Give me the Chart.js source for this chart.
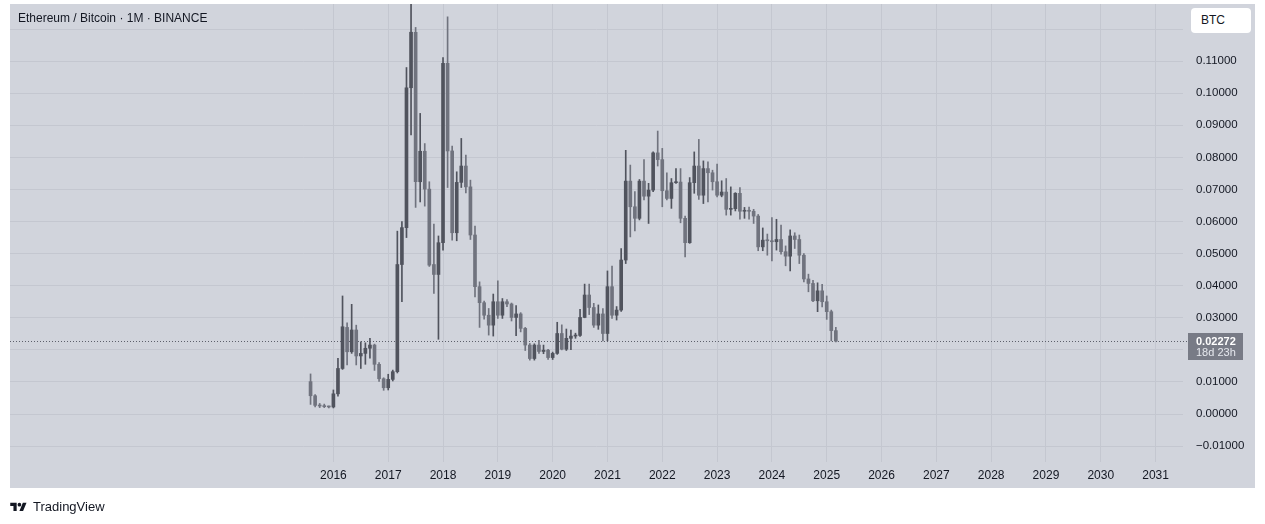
<!DOCTYPE html>
<html>
<head>
<meta charset="utf-8">
<script src="https://cdn.jsdelivr.net/npm/chart.js@4.4.1/dist/chart.umd.min.js"></script>
<style>
  html, body { margin:0; padding:0; background:#ffffff; width:1265px; height:524px; overflow:hidden;
    font-family:"Liberation Sans", Arial, sans-serif; }
  #panel { position:absolute; left:10px; top:4px; width:1245px; height:484px; background:#d1d4dc; }
  #c { position:absolute; left:0; top:0; }
  #title { position:absolute; left:18px; top:11px; font-size:12px; line-height:14px; color:#131722; white-space:nowrap; }
  #btc { position:absolute; left:1191px; top:8px; width:60px; height:25px; background:#ffffff; border-radius:4px;
    font-size:12px; line-height:25px; color:#131722; box-sizing:border-box; padding-left:10px; }
  #logo { position:absolute; left:10px; top:499px; height:14px; display:flex; align-items:center; color:#131722; font-size:13px; }
  #logo svg { margin-right:6px; }
</style>
</head>
<body>
<div id="panel"></div>
<canvas id="c" width="1265" height="524"></canvas>
<div id="title">Ethereum / Bitcoin · 1M · BINANCE</div>
<div id="btc">BTC</div>
<div id="logo"><svg width="17" height="11" viewBox="0 0 36 24"><path d="M14 22H7V11H0V4h14v18zM28 22h-8l7.5-18h8L28 22z" fill="#131722"/><circle cx="20" cy="8" r="4" fill="#131722"/></svg>TradingView</div>
<script>
// ---- data (ETH/BTC monthly candles) ----
const months = [
 '2015-08','2015-09','2015-10','2015-11','2015-12',
 '2016-01','2016-02','2016-03','2016-04','2016-05','2016-06','2016-07','2016-08','2016-09','2016-10','2016-11','2016-12',
 '2017-01','2017-02','2017-03','2017-04','2017-05','2017-06','2017-07','2017-08','2017-09','2017-10','2017-11','2017-12',
 '2018-01','2018-02','2018-03','2018-04','2018-05','2018-06','2018-07','2018-08','2018-09','2018-10','2018-11','2018-12',
 '2019-01','2019-02','2019-03','2019-04','2019-05','2019-06','2019-07','2019-08','2019-09','2019-10','2019-11','2019-12',
 '2020-01','2020-02','2020-03','2020-04','2020-05','2020-06','2020-07','2020-08','2020-09','2020-10','2020-11','2020-12',
 '2021-01','2021-02','2021-03','2021-04','2021-05','2021-06','2021-07','2021-08','2021-09','2021-10','2021-11','2021-12',
 '2022-01','2022-02','2022-03','2022-04','2022-05','2022-06','2022-07','2022-08','2022-09','2022-10','2022-11','2022-12',
 '2023-01','2023-02','2023-03','2023-04','2023-05','2023-06','2023-07','2023-08','2023-09','2023-10','2023-11','2023-12',
 '2024-01','2024-02','2024-03','2024-04','2024-05','2024-06','2024-07','2024-08','2024-09','2024-10','2024-11','2024-12',
 '2025-01','2025-02','2025-03'
];
const open = [
 .0101,.0057,.0027,.0025,.0023,
 .0022,.0063,.0142,.0270,.0194,.0262,.0181,.0189,.0205,.0215,.0155,.0110,
 .0082,.0108,.0132,.0466,.0581,.1017,.1190,.0724,.0819,.0701,.0466,.0435,
 .0534,.1093,.0820,.0565,.0722,.0773,.0708,.0558,.0397,.0347,.0308,.0277,
 .0350,.0308,.0350,.0343,.0301,.0312,.0267,.0215,.0173,.0215,.0195,.0199,
 .0176,.0189,.0251,.0202,.0236,.0243,.0245,.0301,.0371,.0332,.0277,.0312,
 .0251,.0397,.0308,.0324,.0480,.0726,.0646,.0610,.0726,.0679,.0698,.0814,
 .0793,.0696,.0672,.0721,.0723,.0610,.0534,.0721,.0773,.0682,.0765,.0752,
 .0724,.0682,.0692,.0638,.0640,.0688,.0632,.0634,.0632,.0617,.0521,.0542,
 .0540,.0537,.0544,.0506,.0492,.0555,.0544,.0495,.0421,.0407,.0353,.0384,
 .0350,.0319,.0260
];
const high = [
 .0125,.0061,.0033,.0031,.0025,
 .0075,.0174,.0368,.0284,.0342,.0277,.0225,.0222,.0236,.0218,.0160,.0113,
 .0124,.0137,.0570,.0600,.1080,.1560,.1205,.0937,.0843,.0724,.0592,.0555,
 .1111,.1238,.0835,.0755,.0859,.0807,.0729,.0586,.0412,.0352,.0329,.0374,
 .0415,.0360,.0357,.0346,.0338,.0316,.0270,.0220,.0219,.0230,.0215,.0202,
 .0193,.0286,.0278,.0265,.0262,.0252,.0326,.0405,.0405,.0345,.0340,.0329,
 .0446,.0461,.0335,.0516,.0822,.0776,.0693,.0731,.0793,.0719,.0817,.0882,
 .0828,.0752,.0734,.0765,.0765,.0617,.0737,.0817,.0856,.0789,.0786,.0760,
 .0779,.0727,.0734,.0708,.0690,.0706,.0644,.0645,.0638,.0622,.0580,.0561,
 .0612,.0607,.0589,.0524,.0574,.0565,.0558,.0500,.0436,.0417,.0409,.0404,
 .0368,.0324,.0270
];
const low = [
 .0030,.0022,.0020,.0020,.0019,
 .0019,.0056,.0139,.0153,.0189,.0153,.0142,.0155,.0174,.0136,.0102,.0074,
 .0075,.0103,.0128,.0350,.0550,.0870,.0644,.0661,.0648,.0460,.0376,.0233,
 .0511,.0706,.0542,.0540,.0706,.0689,.0544,.0365,.0270,.0296,.0246,.0243,
 .0298,.0298,.0335,.0290,.0244,.0256,.0198,.0168,.0168,.0189,.0188,.0170,
 .0170,.0186,.0200,.0198,.0201,.0236,.0242,.0300,.0310,.0270,.0264,.0228,
 .0228,.0298,.0293,.0320,.0469,.0552,.0571,.0605,.0667,.0594,.0693,.0773,
 .0646,.0667,.0641,.0719,.0596,.0490,.0532,.0688,.0669,.0656,.0661,.0698,
 .0677,.0677,.0620,.0620,.0633,.0607,.0610,.0607,.0594,.0509,.0509,.0495,
 .0477,.0511,.0498,.0462,.0446,.0516,.0469,.0412,.0381,.0350,.0319,.0334,
 .0295,.0228,.0225
];
const close = [
 .0057,.0027,.0025,.0023,.0022,
 .0063,.0142,.0272,.0194,.0262,.0181,.0189,.0205,.0215,.0155,.0110,.0082,
 .0108,.0132,.0466,.0581,.1017,.1190,.0724,.0819,.0701,.0464,.0435,.0534,
 .1093,.0820,.0565,.0722,.0773,.0708,.0558,.0397,.0347,.0308,.0277,.0350,
 .0308,.0350,.0343,.0301,.0312,.0267,.0215,.0173,.0215,.0195,.0199,.0176,
 .0189,.0251,.0202,.0236,.0243,.0245,.0301,.0371,.0332,.0277,.0312,.0251,
 .0397,.0308,.0324,.0480,.0726,.0646,.0610,.0726,.0679,.0698,.0814,.0793,
 .0696,.0672,.0721,.0723,.0610,.0534,.0721,.0773,.0682,.0765,.0752,.0724,
 .0682,.0692,.0638,.0640,.0688,.0632,.0634,.0632,.0617,.0521,.0542,.0540,
 .0537,.0544,.0506,.0492,.0555,.0544,.0495,.0421,.0407,.0353,.0384,.0350,
 .0319,.0260,.02272
];
const yearTicks = [2016,2017,2018,2019,2020,2021,2022,2023,2024,2025,2026,2027,2028,2029,2030,2031];
const priceTicks = [-0.01,0,0.01,0.02,0.03,0.04,0.05,0.06,0.07,0.08,0.09,0.10,0.11,0.12];
const hiddenPriceLabels = [0.02, 0.12];
const countdown = '18d 23h';

// ---- styles ----
const UP = '#50535d', DOWN = '#70737e';
const GRID = '#c4c7d0';
const FONT = '"Liberation Sans", Arial, sans-serif';

const monthX = months.map(m => { const [y, mo] = m.split('-').map(Number); return y + (mo - 1) / 12; });
const isUp = i => close[i] >= open[i];
const lastPrice = close[close.length - 1];

const bodies = monthX.map((x, i) => ({ x, y: [open[i], close[i]] }));
const wicks  = monthX.map((x, i) => ({ x, y: [low[i], high[i]] }));

const priceTag = {
  id: 'priceTag',
  beforeDatasetsDraw(chart) {
    const { ctx, chartArea, scales: { y } } = chart;
    const py = Math.round(y.getPixelForValue(lastPrice)) + 0.5;
    ctx.save();
    ctx.strokeStyle = '#5d606b';
    ctx.lineWidth = 1;
    ctx.setLineDash([1, 2]);
    ctx.beginPath();
    ctx.moveTo(chartArea.left, py);
    ctx.lineTo(chartArea.right + 5, py);
    ctx.stroke();
    ctx.restore();
  },
  afterDraw(chart) {
    const { ctx, chartArea, scales: { y } } = chart;
    const py = Math.round(y.getPixelForValue(lastPrice));
    const x0 = chartArea.right + 5;
    ctx.save();
    ctx.fillStyle = '#787b86';
    ctx.fillRect(x0, py - 8, 55, 27);
    ctx.textBaseline = 'middle';
    ctx.textAlign = 'left';
    ctx.fillStyle = '#ffffff';
    ctx.font = 'bold 11px ' + FONT;
    ctx.fillText(lastPrice.toFixed(5), chartArea.right + 13, py + 1);
    ctx.fillStyle = '#e6e8ee';
    ctx.font = '11px ' + FONT;
    ctx.fillText(countdown, chartArea.right + 13, py + 12);
    ctx.restore();
  }
};

const noPad = s => { s.paddingTop = 0; s.paddingBottom = 0; s.paddingLeft = 0; s.paddingRight = 0; };

new Chart(document.getElementById('c'), {
  type: 'bar',
  data: {
    datasets: [
      {
        label: 'body', data: bodies, order: 0, grouped: false,
        barThickness: 3, minBarLength: 1, borderWidth: 0,
        backgroundColor: c => isUp(c.dataIndex) ? UP : DOWN
      },
      {
        label: 'wick', data: wicks, order: 1, grouped: false,
        barThickness: 1, borderWidth: 0,
        backgroundColor: c => isUp(c.dataIndex) ? UP : DOWN
      }
    ]
  },
  options: {
    responsive: false,
    animation: false,
    events: [],
    layout: { padding: { left: 10, right: 10, top: 4, bottom: 36 } },
    plugins: { legend: { display: false }, tooltip: { enabled: false }, title: { display: false } },
    scales: {
      x: {
        type: 'linear', min: 2010.1, max: 2031.5, offset: false,
        afterBuildTicks: s => { s.ticks = yearTicks.map(v => ({ value: v })); },
        afterFit: s => { s.height = 26; noPad(s); },
        grid: { color: GRID, drawTicks: false, offset: false },
        border: { display: false },
        ticks: {
          autoSkip: false, maxRotation: 0, padding: 6,
          color: '#131722', font: { family: FONT, size: 12 },
          callback: v => String(Math.round(v))
        }
      },
      y: {
        type: 'linear', position: 'right', min: -0.01495, max: 0.1278,
        afterBuildTicks: s => { s.ticks = priceTicks.map(v => ({ value: v })); },
        afterFit: s => { s.width = 72; noPad(s); },
        grid: { color: GRID, drawTicks: false },
        border: { display: false },
        ticks: {
          padding: 13, color: '#131722', font: { family: FONT, size: 11.5 },
          callback: v => {
            if (hiddenPriceLabels.some(h => Math.abs(h - v) < 1e-9)) return '';
            const s = Math.abs(v).toFixed(5);
            return v < -1e-12 ? '\u2212' + s : s;
          }
        }
      }
    }
  },
  plugins: [priceTag]
});
</script>
</body>
</html>
